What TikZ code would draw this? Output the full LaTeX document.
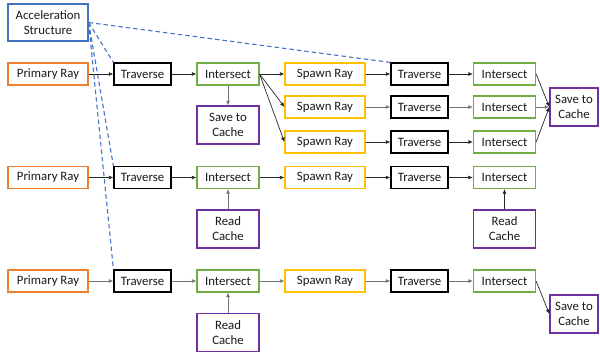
\documentclass[tikz,border=0pt]{standalone}
\usepackage{fontspec}
\setmainfont{Carlito}
\usetikzlibrary{arrows.meta}
\definecolor{cOrange}{HTML}{ED7D31}
\definecolor{cGreen}{HTML}{70AD47}
\definecolor{cGold}{HTML}{FFC000}
\definecolor{cPurple}{HTML}{7030A0}
\definecolor{cBlue}{HTML}{4472C4}
\definecolor{cText}{HTML}{1A1A1A}
\tikzset{
  box/.style={draw, line width=1.2pt, fill=white, inner sep=0pt, align=center,
    minimum height=22pt, text=cText, font=\fontsize{12.8}{15}\selectfont},
  accel/.style={box, draw=cBlue, minimum width=80pt, minimum height=37pt},
  primary/.style={box, draw=cOrange, minimum width=80pt},
  trav/.style={box, draw=black, minimum width=57pt},
  isect/.style={box, draw=cGreen, minimum width=62pt},
  spawn/.style={box, draw=cGold, minimum width=80pt},
  cache/.style={box, draw=cPurple, minimum width=62pt, minimum height=38pt},
  savebox/.style={box, draw=cPurple, minimum width=48pt, minimum height=38pt},
  flow/.style={-{Latex[length=4.5pt,width=4pt]}, line width=0.7pt, draw=black!85},
  flowgray/.style={flow, draw=black!55},
  bvh/.style={draw=cBlue, line width=1.1pt, dash pattern=on 4.5pt off 3pt},
}
\begin{document}
\begin{tikzpicture}[x=1pt,y=-1pt]
\useasboundingbox (0,0) rectangle (600,353);

% acceleration structure
\node[accel] (as) at (48,22.5) {Acceleration\\Structure};

% row 1
\node[primary] (p1) at (48,74) {Primary Ray};
\node[trav] (t1) at (142.5,74) {Traverse};
\node[isect] (i1) at (228,74) {Intersect};
\node[cache] (sv1) at (228,125) {Save to\\Cache};
\node[spawn] (s1) at (325,74) {Spawn Ray};
\node[trav] (tb1) at (419.5,74) {Traverse};
\node[isect] (ib1) at (504.5,74) {Intersect};
% rows 2 and 3 (extra spawned rays)
\node[spawn] (s2) at (325,107) {Spawn Ray};
\node[trav] (tb2) at (419.5,107) {Traverse};
\node[isect] (ib2) at (504.5,107) {Intersect};
\node[spawn] (s3) at (325,142) {Spawn Ray};
\node[trav] (tb3) at (419.5,142) {Traverse};
\node[isect] (ib3) at (504.5,142) {Intersect};
\node[savebox] (svr) at (574,107) {Save to\\Cache};

% row 4
\node[primary] (p4) at (48,177.5) {Primary Ray};
\node[trav] (t4) at (142.5,177.5) {Traverse};
\node[isect] (i4) at (228,177.5) {Intersect};
\node[cache] (rc4) at (228,229) {Read\\Cache};
\node[spawn] (s4) at (325,177.5) {Spawn Ray};
\node[trav] (tb4) at (419.5,177.5) {Traverse};
\node[isect] (ib4) at (504.5,177.5) {Intersect};
\node[cache] (rcb4) at (504.5,229) {Read\\Cache};

% row 5
\node[primary] (p5) at (48,281) {Primary Ray};
\node[trav] (t5) at (142.5,281) {Traverse};
\node[isect] (i5) at (228,281) {Intersect};
\node[cache] (rc5) at (228,332.5) {Read\\Cache};
\node[spawn] (s5) at (325,281) {Spawn Ray};
\node[trav] (tb5) at (419.5,281) {Traverse};
\node[isect] (ib5) at (504.5,281) {Intersect};
\node[savebox] (sv5) at (574,314) {Save to\\Cache};

% acceleration structure links
\draw[bvh] (as.east) -- (t1.north west);
\draw[bvh] (as.east) -- (t4.north west);
\draw[bvh] (as.east) -- (t5.north west);
\draw[bvh] (as.east) -- (tb1.north west);

% row 1 flow
\draw[flow] (p1) -- (t1);
\draw[flow] (t1) -- (i1);
\draw[flowgray] (i1) -- (sv1);
\draw[flow] (i1.east) -- (s1.west);
\draw[flow] (i1.east) -- (s2.west);
\draw[flow] (i1.east) -- (s3.west);
\draw[flow] (s1) -- (tb1);
\draw[flow] (tb1) -- (ib1);
\draw[flowgray] (s2) -- (tb2);
\draw[flowgray] (tb2) -- (ib2);
\draw[flow] (s3) -- (tb3);
\draw[flow] (tb3) -- (ib3);
\draw[flow] (ib1.east) -- (svr.west);
\draw[flowgray] (ib2.east) -- (svr.west);
\draw[flow] (ib3.east) -- (svr.west);

% row 4 flow
\draw[flow] (p4) -- (t4);
\draw[flow] (t4) -- (i4);
\draw[flowgray] (rc4) -- (i4);
\draw[flow] (i4) -- (s4);
\draw[flow] (s4) -- (tb4);
\draw[flow] (tb4) -- (ib4);
\draw[flow] (rcb4) -- (ib4);

% row 5 flow
\draw[flowgray] (p5) -- (t5);
\draw[flowgray] (t5) -- (i5);
\draw[flowgray] (rc5) -- (i5);
\draw[flowgray] (i5) -- (s5);
\draw[flowgray] (s5) -- (tb5);
\draw[flowgray] (tb5) -- (ib5);
\draw[flow] (ib5.east) -- (sv5.west);
\end{tikzpicture}
\end{document}
